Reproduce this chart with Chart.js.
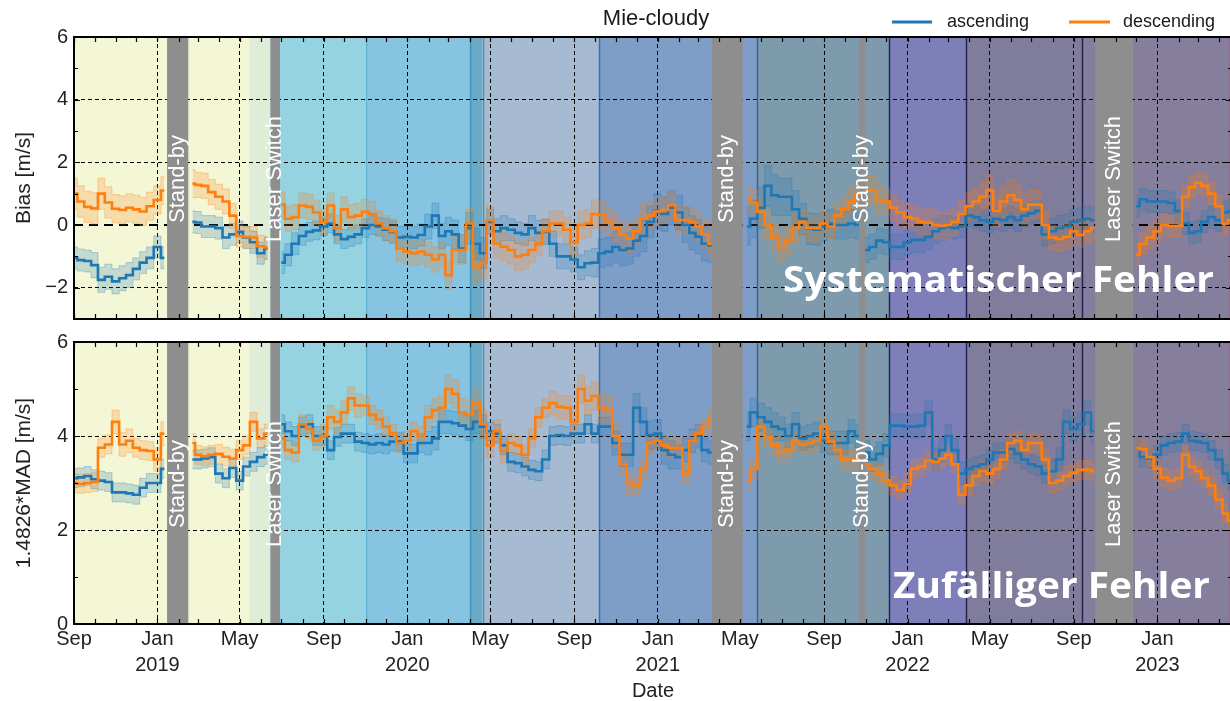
<!DOCTYPE html>
<html>
<head>
<meta charset="utf-8">
<script src="https://cdn.jsdelivr.net/npm/chart.js@4/dist/chart.umd.min.js"></script>
<style>
  html, body { margin: 0; padding: 0; background: #fff; overflow: hidden; }
  #wrap { position: relative; width: 1230px; height: 701px; overflow: hidden; }
  canvas { position: absolute; left: 0; }
  #biasChart { top: 0; }
  #madChart { top: 330px; }
</style>
</head>
<body>
<div id="wrap">
  <canvas id="biasChart" width="1232" height="330"></canvas>
  <canvas id="madChart" width="1232" height="371"></canvas>
</div>
<script>
// sample dates (about every 10 days)
const sampleDates = [
  "2018-09-01","2018-09-11","2018-09-21","2018-10-01","2018-10-11","2018-10-21","2018-11-01","2018-11-11","2018-11-21","2018-12-01","2018-12-11","2018-12-21",
  "2019-01-01","2019-01-11","2019-01-21","2019-02-01","2019-02-11","2019-02-21","2019-03-01","2019-03-11","2019-03-21","2019-04-01","2019-04-11","2019-04-21",
  "2019-05-01","2019-05-11","2019-05-21","2019-06-01","2019-06-11","2019-06-21","2019-07-01","2019-07-11","2019-07-21","2019-08-01","2019-08-11","2019-08-21",
  "2019-09-01","2019-09-11","2019-09-21","2019-10-01","2019-10-11","2019-10-21","2019-11-01","2019-11-11","2019-11-21","2019-12-01","2019-12-11","2019-12-21",
  "2020-01-01","2020-01-11","2020-01-21","2020-02-01","2020-02-11","2020-02-21","2020-03-01","2020-03-11","2020-03-21","2020-04-01","2020-04-11","2020-04-21",
  "2020-05-01","2020-05-11","2020-05-21","2020-06-01","2020-06-11","2020-06-21","2020-07-01","2020-07-11","2020-07-21","2020-08-01","2020-08-11","2020-08-21",
  "2020-09-01","2020-09-11","2020-09-21","2020-10-01","2020-10-11","2020-10-21","2020-11-01","2020-11-11","2020-11-21","2020-12-01","2020-12-11","2020-12-21",
  "2021-01-01","2021-01-11","2021-01-21","2021-02-01","2021-02-11","2021-02-21","2021-03-01","2021-03-11","2021-03-21","2021-04-01","2021-04-11","2021-04-21",
  "2021-05-01","2021-05-11","2021-05-21","2021-06-01","2021-06-11","2021-06-21","2021-07-01","2021-07-11","2021-07-21","2021-08-01","2021-08-11","2021-08-21",
  "2021-09-01","2021-09-11","2021-09-21","2021-10-01","2021-10-11","2021-10-21","2021-11-01","2021-11-11","2021-11-21","2021-12-01","2021-12-11","2021-12-21",
  "2022-01-01","2022-01-11","2022-01-21","2022-02-01","2022-02-11","2022-02-21","2022-03-01","2022-03-11","2022-03-21","2022-04-01","2022-04-11","2022-04-21",
  "2022-05-01","2022-05-11","2022-05-21","2022-06-01","2022-06-11","2022-06-21","2022-07-01","2022-07-11","2022-07-21","2022-08-01","2022-08-11","2022-08-21",
  "2022-09-01","2022-09-11","2022-09-21","2022-10-01","2022-10-11","2022-10-21","2022-11-01","2022-11-11","2022-11-21","2022-12-01","2022-12-11","2022-12-21",
  "2023-01-01","2023-01-11","2023-01-21","2023-02-01","2023-02-11","2023-02-21","2023-03-01","2023-03-11","2023-03-21","2023-04-01","2023-04-11","2023-04-17"
];

// Bias [m/s]
const biasAscending = [
  -1.05,-1.12,-1.15, -1.28,-1.75,-1.65, -1.8,-1.7,-1.6, -1.4,-1.2,-1.05,
  -0.7,-1.05,null, null,null,0.1, 0.08,-0.05,-0.05, -0.1,-0.4,-0.3,
  -0.22,-0.4,-0.55, -0.9,-0.75,null, -1.2,-0.95,-0.6, -0.35,-0.22,-0.17,
  -0.05,0.05,-0.3, -0.45,-0.38,-0.3, -0.1,0.0,-0.05, -0.15,-0.22,-0.4,
  -0.38,-0.4,-0.32, -0.05,0.3,-0.35, -0.2,-0.3,-0.75, -0.1,-0.6,-0.9,
  0.1,-0.2,-0.1, -0.15,-0.25,-0.3, -0.1,-0.25,-0.22, -0.6,-1.0,-1.0,
  -1.1,-1.35,-1.22, -1.2,-0.9,-0.85, -0.7,-0.8,-0.75, -0.5,-0.35,0.1,
  0.45,0.35,0.55, 0.4,0.0,-0.25, -0.37,-0.6,-0.65, null,null,null,
  null,-0.05,0.2, 0.55,1.25,0.95, 0.9,0.9,0.5, 0.2,-0.12,-0.15,
  -0.05,0.05,0.0, 0.0,0.05,0.0, -0.8,-0.7,-0.5, -0.55,-0.7,-0.7,
  -0.55,-0.48,-0.48, -0.38,-0.2,-0.1, -0.05,-0.1,-0.05, 0.3,0.25,0.15,
  0.1,0.2,0.15, 0.25,0.15,0.3, 0.37,0.45,-0.3, -0.2,-0.1,-0.05,
  0.1,0.15,0.2, 0.15,null,null, null,null,null, 0.6,0.82,0.75,
  0.75,0.75,0.7, 0.45,0.05,-0.25, -0.2,0.1,0.25, 0.15,0.4,0.45
];
const biasDescending = [
  1.0,0.75,0.58, 0.53,1.0,0.72, 0.52,0.48,0.55, 0.5,0.43,0.6,
  0.8,1.1,null, null,null,1.32, 1.28,1.25,1.05, 0.9,0.75,0.3,
  -0.35,-0.38,-0.4, -0.68,-0.72,null, 0.65,0.2,0.25, 0.62,0.58,0.4,
  0.1,0.62,-0.1, 0.5,0.25,0.3, 0.42,0.35,0.05, -0.1,-0.2,-0.75,
  -0.85,-0.9,-0.85, -0.95,-1.1,-0.95, -1.6,-0.8,-0.8, 0.05,-1.35,-1.2,
  0.15,-0.6,-0.69, -0.8,-1.0,-0.95, -0.8,-0.58,-0.2, 0.05,0.05,-0.15,
  -0.55,0.0,0.05, 0.35,0.32,0.12, -0.1,-0.32,-0.43, -0.2,0.2,0.3,
  0.43,0.48,0.64, 0.16,0.16,0.1, -0.05,-0.3,-0.6, null,null,null,
  null,0.85,0.7, 0.42,0.0,-0.4, -0.7,-0.48,-0.1, 0.1,-0.1,-0.1,
  0.05,-0.05,0.3, 0.5,0.75,0.95, 1.1,1.1,0.8, 0.75,0.55,0.4,
  0.25,0.2,0.1, 0.07,0.0,-0.03, 0.0,0.1,0.35, 0.6,0.75,0.9,
  1.1,0.45,0.75, 0.95,0.8,0.5, 0.65,0.65,0.0, -0.4,-0.45,-0.38,
  -0.2,-0.32,-0.2, -0.1,null,null, null,null,null, -0.95,-0.6,-0.4,
  -0.2,0.0,-0.03, -0.03,0.9,1.2, 1.35,1.25,1.0, 0.6,0.05,0.15
];

// 1.4826*MAD [m/s]
const madAscending = [
  3.1,3.12,3.15, 3.08,3.05,3.02, 2.8,2.8,2.78, 2.75,2.9,3.0,
  3.0,3.3,null, null,null,3.5, 3.5,3.52,3.55, 3.2,3.1,3.32,
  3.05,3.35,3.45, 3.55,3.6,null, 4.25,4.1,4.0, 4.2,4.25,4.0,
  4.0,3.7,3.98, 4.05,4.05,3.88, 3.85,3.82,3.85, 3.82,3.88,3.88,
  3.63,3.63,3.85, 3.85,3.95,4.3, 4.3,4.27,4.22, 4.15,4.3,4.2,
  4.1,4.05,3.8, 3.45,3.42,3.35, 3.28,3.25,3.5, 4.0,4.02,4.0,
  4.05,4.05,4.25, 4.05,4.2,4.2, 3.85,3.6,3.6, 4.6,4.3,4.02,
  4.05,3.7,3.6, 3.55,3.7,3.9, 4.0,3.7,3.65, null,null,null,
  null,4.2,4.5, 4.4,4.3,4.2, 4.15,4.0,4.25, 3.95,4.0,4.05,
  3.9,3.85,3.85, 3.85,4.1,4.0, 3.65,3.5,3.62, 3.8,4.22,4.22,
  4.2,4.2,4.22, 4.5,3.5,3.7, 4.0,3.7,3.2, 3.3,3.35,3.4,
  3.5,3.65,3.65, 3.72,3.62,3.5, 3.4,3.35,3.2, 3.25,3.5,4.3,
  4.15,4.25,4.5, 4.1,null,null, null,null,null, 3.75,3.55,3.52,
  3.6,3.8,3.85, 3.88,4.05,3.9, 3.88,3.85,3.7, 3.5,3.2,3.05
];
const madDescending = [
  3.0,2.98,3.0, 3.02,3.75,3.82, 4.3,3.82,3.9, 3.75,3.7,3.68,
  3.5,4.05,null, null,null,3.85, 3.6,3.57,3.6, 3.62,3.56,3.52,
  3.7,3.8,4.3, 3.95,4.05,null, 3.95,3.7,3.65, 4.25,4.15,3.9,
  4.0,4.4,4.3, 4.5,4.8,4.65, 4.65,4.45,4.35, 4.2,4.05,3.85,
  3.9,4.1,4.0, 4.4,4.55,4.6, 5.0,4.9,4.5, 4.45,4.7,4.25,
  3.8,4.1,3.68, 3.85,3.8,3.6, 3.95,4.4,4.6, 4.7,4.62,4.6,
  4.3,5.0,4.75, 4.85,4.6,4.55, 4.0,3.4,3.0, 2.95,3.3,3.85,
  3.9,3.8,3.75, 3.75,3.2,3.9, 4.05,4.2,4.35, null,null,null,
  null,3.05,3.3, 4.2,3.98,3.8, 3.65,3.7,3.9, 3.82,3.85,3.9,
  4.2,3.88,3.7, 3.5,3.5,3.5, 3.4,3.3,3.2, 3.06,2.95,2.85,
  2.98,3.3,3.35, 3.48,3.45,3.52, 3.6,3.4,2.75, 2.95,3.15,3.25,
  3.2,3.3,3.5, 3.85,3.9,3.7, 3.85,3.85,3.5, 3.0,3.05,3.15,
  3.22,3.28,3.28, 3.25,null,null, null,null,null, 3.75,3.72,3.55,
  3.3,3.12,3.05, 3.1,3.6,3.35, 3.25,3.1,2.95, 2.65,2.35,2.2
];

// half width of the shaded bands, one value per month (Sep 2018 .. Apr 2023)
const biasAscSpread = [
  0.35,0.4,0.4,0.35,
  0.35,0.35,0.35,0.35,0.35,0.35,0.35,0.3,0.3,0.3,0.3,0.35,
  0.35,0.4,0.45,0.5,0.4,0.35,0.4,0.4,0.4,0.45,0.5,0.5,
  0.55,0.55,0.55,0.5,0.6,0.65,0.6,0.5,0.45,0.45,0.4,0.4,
  0.4,0.4,0.35,0.35,0.35,0.35,0.35,0.4,0.4,0.4,0.4,0.35,
  0.35,0.35,0.35,0.35
];
const biasDescSpread = [
  0.5,0.5,0.45,0.45,
  0.45,0.45,0.4,0.4,0.35,0.35,0.4,0.4,0.4,0.4,0.4,0.4,
  0.4,0.4,0.45,0.5,0.45,0.45,0.4,0.4,0.45,0.45,0.45,0.45,
  0.45,0.45,0.45,0.45,0.4,0.45,0.45,0.4,0.4,0.45,0.45,0.4,
  0.4,0.45,0.45,0.45,0.5,0.5,0.45,0.4,0.4,0.4,0.4,0.35,
  0.35,0.35,0.35,0.35
];
const madAscSpread = [
  0.2,0.2,0.2,0.2,
  0.2,0.2,0.2,0.2,0.2,0.2,0.2,0.2,0.2,0.2,0.2,0.2,
  0.2,0.25,0.25,0.25,0.2,0.2,0.2,0.2,0.2,0.2,0.25,0.3,
  0.3,0.25,0.25,0.3,0.3,0.3,0.25,0.25,0.25,0.25,0.25,0.25,
  0.25,0.25,0.25,0.2,0.2,0.2,0.2,0.25,0.25,0.25,0.2,0.2,
  0.2,0.2,0.2,0.2
];
const madDescSpread = [
  0.2,0.2,0.25,0.2,
  0.25,0.2,0.2,0.2,0.2,0.2,0.2,0.2,0.25,0.25,0.2,0.2,
  0.2,0.25,0.3,0.3,0.25,0.2,0.2,0.25,0.3,0.3,0.25,0.2,
  0.2,0.2,0.2,0.2,0.2,0.2,0.2,0.2,0.2,0.2,0.2,0.2,
  0.2,0.2,0.2,0.2,0.2,0.2,0.2,0.2,0.2,0.2,0.2,0.2,
  0.2,0.2,0.2,0.2
];

// labelled date ticks
const majorTickDates = ["2018-09-01","2019-01-01","2019-05-01","2019-09-01","2020-01-01","2020-05-01","2020-09-01",
  "2021-01-01","2021-05-01","2021-09-01","2022-01-01","2022-05-01","2022-09-01","2023-01-01"];
const majorTickLabels = ["Sep",["Jan","2019"],"May","Sep",["Jan","2020"],"May","Sep",
  ["Jan","2021"],"May","Sep",["Jan","2022"],"May","Sep",["Jan","2023"]];

// processing phases (background) and outages (grey bars)
const phaseStarts = ["2018-09-01","2019-05-15","2019-06-15","2019-11-01","2020-04-01","2020-04-20",
  "2020-10-07","2021-05-26","2021-12-05","2022-03-28","2022-09-13","2022-11-26"];
const phaseColors = ["#f3f7d6","#deecd8","#95d3e1","#86c4e2","#6aaac4","#a6bbd2",
  "#7e9dc7","#7d9bad","#7e7eb8","#807c9b","#847e9e","#857e9d"];
const phaseEdges = ["2019-11-01","2020-04-01","2020-04-20","2020-10-07","2021-05-26","2021-12-05","2022-03-28","2022-09-13","2023-04-17"];
const phaseEdgeColors = ["#5fb1d8","#3d92bb","#4a8fb0","#3b6fae","#3d6691","#24266b","#26244e","#26244e","#b0406a"];
const outageStarts = ["2019-01-15","2019-06-15","2021-03-21","2021-10-22","2022-10-02"];
const outageEnds = ["2019-02-15","2019-06-29","2021-05-05","2021-10-31","2022-11-26"];
const outageLabels = ["Stand-by","Laser Switch","Stand-by","Stand-by","Laser Switch"];

const DAY0 = Date.UTC(2018, 8, 1);
const X_MAX = 1692;
function toDay(s) {
  const [y, m, d] = s.split("-").map(Number);
  return (Date.UTC(y, m - 1, d) - DAY0) / 86400000;
}
function monthIndex(s) {
  const [y, m] = s.split("-").map(Number);
  return (y - 2018) * 12 + m - 9;
}
function points(values, spreads, sign) {
  return sampleDates.map((d, i) => {
    const v = values[i];
    if (v === null) return { x: toDay(d), y: null };
    const s = spreads ? spreads[monthIndex(d)] * sign : 0;
    return { x: toDay(d), y: v + s };
  });
}

const BLUE = "#1f77b4", ORANGE = "#ff7f0e";
const BLUE_RGB = "31,119,180", ORANGE_RGB = "255,127,14";

function lineSet(label, values, color) {
  return { label, data: points(values, null, 0), borderColor: color, borderWidth: 2.6,
    pointRadius: 0, stepped: "middle", fill: false };
}
function bandSet(values, spreads, sign, rgb, fill) {
  return { label: "", data: points(values, spreads, sign), borderColor: `rgba(${rgb},0.3)`,
    borderWidth: 1, backgroundColor: `rgba(${rgb},0.22)`, pointRadius: 0, stepped: "middle", fill };
}

Chart.defaults.font.family = '"Liberation Sans", Arial, sans-serif';
Chart.defaults.color = "#222";

const panelDecor = {
  id: "panelDecor",
  beforeDraw(chart) {
    const { ctx, chartArea: a, scales: { x } } = chart;
    ctx.save();
    phaseStarts.forEach((s, i) => {
      const x0 = x.getPixelForValue(toDay(s));
      const x1 = i + 1 < phaseStarts.length ? x.getPixelForValue(toDay(phaseStarts[i + 1])) : a.right;
      ctx.fillStyle = phaseColors[i];
      ctx.fillRect(x0, a.top, x1 - x0, a.bottom - a.top);
    });
    ctx.lineWidth = 1.5;
    phaseEdges.forEach((d, i) => {
      const px = Math.round(x.getPixelForValue(toDay(d))) + 0.5;
      ctx.strokeStyle = phaseEdgeColors[i];
      ctx.beginPath(); ctx.moveTo(px, a.top); ctx.lineTo(px, a.bottom); ctx.stroke();
    });
    ctx.restore();
  },
  beforeDatasetsDraw(chart, args, opts) {
    const { ctx, chartArea: a, scales: { y } } = chart;
    if (!opts.zeroLine) return;
    ctx.save();
    const py = Math.round(y.getPixelForValue(0));
    ctx.strokeStyle = "#000"; ctx.lineWidth = 2; ctx.setLineDash([9, 6]);
    ctx.beginPath(); ctx.moveTo(a.left, py); ctx.lineTo(a.right, py); ctx.stroke();
    ctx.restore();
  },
  afterDatasetsDraw(chart, args, opts) {
    const { ctx, chartArea: a, scales: { x, y } } = chart;
    ctx.save();
    // outage bars and their labels
    ctx.fillStyle = "#8e8e8e";
    outageStarts.forEach((s, i) => {
      const x0 = x.getPixelForValue(toDay(s));
      const x1 = x.getPixelForValue(toDay(outageEnds[i]));
      ctx.fillRect(x0, a.top, x1 - x0, a.bottom - a.top);
    });
    ctx.fillStyle = "#fff";
    ctx.font = '22px "Liberation Sans", Arial, sans-serif';
    ctx.textAlign = "center"; ctx.textBaseline = "middle";
    outageStarts.forEach((s, i) => {
      const cx = (x.getPixelForValue(toDay(s)) + x.getPixelForValue(toDay(outageEnds[i]))) / 2;
      ctx.save();
      ctx.translate(cx, (a.top + a.bottom) / 2 + 1);
      ctx.rotate(-Math.PI / 2);
      ctx.fillText(outageLabels[i], 0, 0);
      ctx.restore();
    });
    // frame and inward ticks
    ctx.strokeStyle = "#000"; ctx.lineWidth = 2;
    ctx.strokeRect(a.left, a.top, a.right - a.left, a.bottom - a.top);
    ctx.lineWidth = 1.2;
    ctx.beginPath();
    for (let m = 0; m <= 56; m++) {
      const v = (Date.UTC(2018, 8 + m, 1) - DAY0) / 86400000;
      if (v > X_MAX) break;
      const px = Math.round(x.getPixelForValue(v)) + 0.5;
      ctx.moveTo(px, a.top); ctx.lineTo(px, a.top + 5);
      ctx.moveTo(px, a.bottom); ctx.lineTo(px, a.bottom - 5);
    }
    for (let v = y.min; v <= y.max; v++) {
      const py = Math.round(y.getPixelForValue(v)) + 0.5;
      const len = v % 2 === 0 ? 6 : 4;
      ctx.moveTo(a.left, py); ctx.lineTo(a.left + len, py);
      ctx.moveTo(a.right, py); ctx.lineTo(a.right - len, py);
    }
    ctx.stroke();
    ctx.restore();
  },
  afterDraw(chart, args, opts) {
    const { ctx } = chart;
    ctx.save();
    if (opts.heading) {
      ctx.fillStyle = "#1a1a1a";
      ctx.textBaseline = "middle";
      ctx.textAlign = "center";
      ctx.font = '22px "Liberation Sans", Arial, sans-serif';
      ctx.fillText("Mie-cloudy", 656, 19);
      ctx.textAlign = "left";
      ctx.font = '18px "Liberation Sans", Arial, sans-serif';
      ctx.lineWidth = 3;
      ctx.strokeStyle = BLUE;
      ctx.beginPath(); ctx.moveTo(892, 22); ctx.lineTo(932, 22); ctx.stroke();
      ctx.fillText("ascending", 947, 22);
      ctx.strokeStyle = ORANGE;
      ctx.beginPath(); ctx.moveTo(1069, 22); ctx.lineTo(1110, 22); ctx.stroke();
      ctx.fillText("descending", 1123, 22);
    }
    if (opts.bigText) {
      ctx.fillStyle = "#fff";
      ctx.textBaseline = "alphabetic";
      ctx.textAlign = "left";
      ctx.font = 'bold 36px "Open Sans", sans-serif';
      const w = ctx.measureText(opts.bigText).width;
      ctx.translate(opts.bigLeft, opts.bigBase);
      ctx.scale((opts.bigRight - opts.bigLeft) / w, 1);
      ctx.fillText(opts.bigText, 0, 0);
    }
    ctx.restore();
  }
};

function makeChart(id, cfg) {
  const fmt = v => (v % 2 !== 0 ? "" : v < 0 ? "\u2212" + Math.abs(v) : String(v));
  return new Chart(document.getElementById(id), {
    type: "line",
    data: {
      datasets: [
        lineSet("descending", cfg.desc, ORANGE),
        lineSet("ascending", cfg.asc, BLUE),
        bandSet(cfg.desc, cfg.descSpread, 1, ORANGE_RGB, "+1"),
        bandSet(cfg.desc, cfg.descSpread, -1, ORANGE_RGB, false),
        bandSet(cfg.asc, cfg.ascSpread, 1, BLUE_RGB, "+1"),
        bandSet(cfg.asc, cfg.ascSpread, -1, BLUE_RGB, false)
      ]
    },
    options: {
      responsive: false,
      animation: false,
      events: [],
      layout: { padding: { top: cfg.padTop, left: 0, right: 0, bottom: 0 } },
      scales: {
        x: {
          type: "linear", min: 0, max: X_MAX,
          afterBuildTicks: s => { s.ticks = majorTickDates.map(d => ({ value: toDay(d) })); },
          afterFit: s => { s.height = cfg.xHeight; s.paddingLeft = 0; s.paddingRight = 0; },
          ticks: {
            display: cfg.showDates, autoSkip: false, maxRotation: 0, padding: 2,
            font: { size: 20, lineHeight: 1.3 }, color: "#222",
            callback: (v, i) => majorTickLabels[i]
          },
          grid: { color: "#000", lineWidth: 1, drawTicks: false },
          border: { display: false, dash: [4, 3] },
          title: { display: cfg.showDates, text: "Date", font: { size: 20, lineHeight: 1 },
            padding: { top: 0, bottom: 0 }, color: "#222" }
        },
        y: {
          min: cfg.yMin, max: cfg.yMax,
          afterFit: s => { s.width = 74; s.paddingTop = 0; s.paddingBottom = 0; },
          ticks: { stepSize: 1, padding: 6, font: { size: 20 }, color: "#222", callback: fmt },
          grid: {
            drawTicks: false, lineWidth: 1,
            color: c => (c.tick.value % 2 === 0 && c.tick.value !== 0 && c.tick.value !== cfg.yMax
              ? "#000" : "rgba(0,0,0,0)")
          },
          border: { display: false, dash: [4, 3] },
          title: { display: true, text: cfg.yTitle, font: { size: 21 }, padding: { top: 12, bottom: 0 }, color: "#222" }
        }
      },
      plugins: {
        legend: { display: false },
        tooltip: { enabled: false },
        panelDecor: cfg.decor
      }
    },
    plugins: [panelDecor]
  });
}

makeChart("biasChart", {
  asc: biasAscending, desc: biasDescending, ascSpread: biasAscSpread, descSpread: biasDescSpread,
  yMin: -3, yMax: 6, yTitle: "Bias [m/s]", showDates: false, padTop: 37, xHeight: 11,
  decor: { zeroLine: true, heading: true, bigText: "Systematischer Fehler", bigLeft: 783, bigRight: 1214, bigBase: 292 }
});
makeChart("madChart", {
  asc: madAscending, desc: madDescending, ascSpread: madAscSpread, descSpread: madDescSpread,
  yMin: 0, yMax: 6, yTitle: "1.4826*MAD [m/s]", showDates: true, padTop: 12, xHeight: 77,
  decor: { zeroLine: false, heading: false, bigText: "Zufälliger Fehler", bigLeft: 893, bigRight: 1210, bigBase: 268 }
});
</script>
</body>
</html>
